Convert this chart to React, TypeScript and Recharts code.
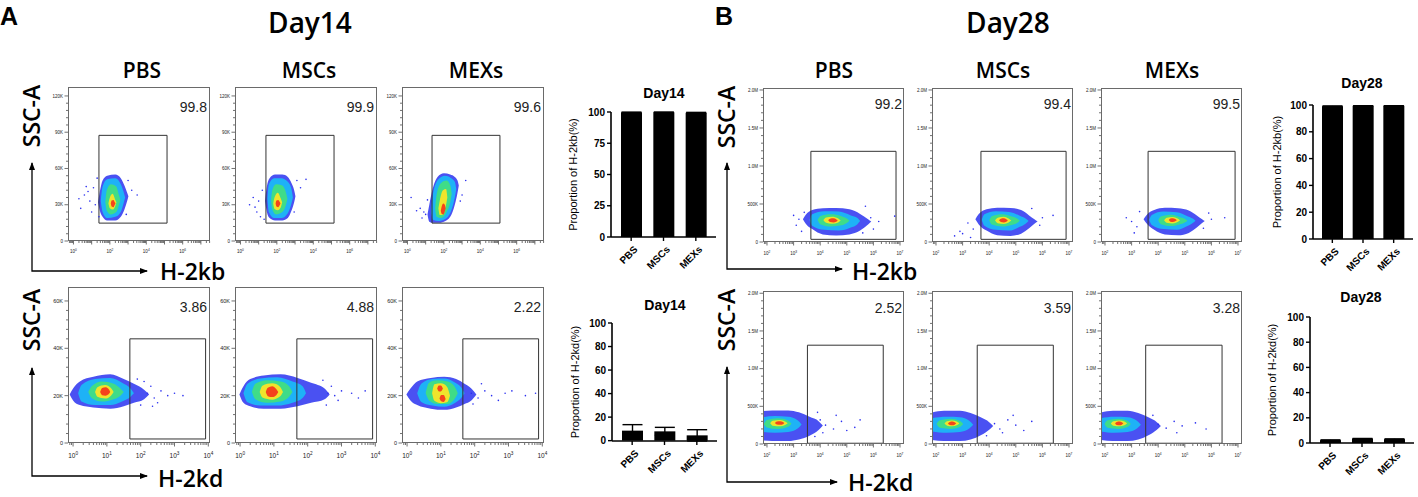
import React from 'react';
import { ComposedChart, Area, Scatter, XAxis, YAxis, ReferenceArea, BarChart, Bar, ErrorBar } from 'recharts';

const TITLE_FONT = '"Open Sans", "Noto Sans", sans-serif';
const ARIAL = '"Liberation Sans", Arial, sans-serif';

const groups = ['PBS', 'MSCs', 'MEXs'];

// gated percentages shown on the flow plots
const d14kbPct = ['99.8', '99.9', '99.6'];
const d14kdPct = ['3.86', '4.88', '2.22'];
const d28kbPct = ['99.2', '99.4', '99.5'];
const d28kdPct = ['2.52', '3.59', '3.28'];

// bar charts: mean and error (%)
const d14kbMean = [99.7, 99.8, 99.4];
const d14kbErr = [0.2, 0.1, 0.3];
const d14kdMean = [8.5, 7.9, 4.5];
const d14kdErr = [5.1, 3.4, 4.8];
const d28kbMean = [99.1, 99.4, 99.4];
const d28kbErr = [0.2, 0.1, 0.1];
const d28kdMean = [2.2, 3.4, 3.0];
const d28kdErr = [0.3, 0.2, 0.3];

const yTicks25 = [0, 25, 50, 75, 100];
const yTicks20 = [0, 20, 40, 60, 80, 100];

// flow axes: x in decades (log10), y in K events
const d14kbXLabels = [0, 2, 4, 6];
const d14kdXLabels = [0, 1, 2, 3, 4];
const d28XLabels = [2, 3, 4, 5, 6, 7];
const d14kbYLabels = [0, 30, 60, 90, 120];
const d14kdYLabels = [0, 20, 40, 60];
const d28YLabels = [0, 500, 1000, 1500, 2000];

// gates [x1, x2, y1, y2]
const d14kbGates = [[1.4, 5.14, 14.8, 87.4], [1.4, 5.14, 14.8, 87.4], [1.35, 5.08, 14.8, 87.4]];
const d14kdGates = [[1.68, 3.92, 1.7, 44], [1.68, 3.92, 1.7, 44], [1.65, 3.89, 1.7, 44]];
const d28kbGates = [[3.65, 6.85, 35, 1193], [3.69, 6.89, 35, 1193], [3.62, 6.89, 35, 1193]];
const d28kdGates = [[3.52, 6.37, 10, 1311], [3.55, 6.41, 10, 1311], [3.53, 6.4, 10, 1311]];

// density contours: [level, [[x, low, high], ...]]  level 0 = sparse (blue) .. 4 = dense (red)
type Blob = [number, number[][]][];

const d14kbPbsBlob: Blob = [
  [0, [[1.35, 32, 32], [1.45, 25, 41], [1.6, 20, 50], [1.85, 17, 54], [2.3, 17, 55], [2.6, 20, 52], [2.8, 26, 46], [2.95, 33, 40], [3.02, 37, 37]]],
  [1, [[1.5, 33, 33], [1.6, 24, 45], [1.85, 19, 51], [2.3, 20, 52], [2.6, 24, 47], [2.75, 31, 41], [2.84, 36, 36]]],
  [2, [[1.75, 32, 32], [1.83, 25, 42], [2.05, 22, 47], [2.35, 24, 45], [2.5, 30, 38], [2.58, 34, 34]]],
  [3, [[1.92, 31, 31], [2.0, 27, 36], [2.15, 26, 39], [2.3, 29, 34], [2.36, 32, 32]]],
  [4, [[2.05, 31, 31], [2.1, 28.5, 33.5], [2.2, 28, 34], [2.27, 30, 32], [2.31, 31, 31]]],
];
const d14kbPbsDots = [[0.3, 35], [0.4, 27], [0.6, 38], [0.7, 45], [0.9, 33], [1.1, 44], [1.2, 30], [3.0, 50], [3.2, 42], [3.5, 38], [1.0, 24], [0.8, 41], [1.3, 52], [1.4, 20], [2.9, 22]];

const d14kbMscBlob: Blob = [
  [0, [[1.35, 33, 33], [1.45, 24, 45], [1.6, 19, 52], [1.9, 17, 55], [2.3, 17, 55], [2.6, 19, 53], [2.8, 25, 48], [2.95, 32, 42], [3.02, 37, 37]]],
  [1, [[1.48, 35, 35], [1.56, 24, 47], [1.85, 19, 52], [2.25, 19, 52], [2.6, 23, 49], [2.8, 31, 43], [2.88, 36, 36]]],
  [2, [[1.68, 34, 34], [1.75, 26, 42], [1.95, 22, 47], [2.3, 24, 46], [2.5, 30, 40], [2.58, 35, 35]]],
  [3, [[1.8, 31, 31], [1.87, 26.5, 36], [2.05, 25.5, 40], [2.22, 28, 35], [2.29, 32, 32]]],
  [4, [[1.93, 31, 31], [1.98, 28.5, 33.5], [2.07, 28, 34], [2.15, 29.5, 32.5], [2.2, 31, 31]]],
];
const d14kbMscDots = [[0.5, 30], [0.8, 28], [0.9, 24], [1.0, 33], [1.2, 42], [3.1, 50], [3.3, 44], [3.6, 51], [1.1, 20], [0.7, 36], [1.3, 18], [2.95, 24]];

const d14kbMexBlob: Blob = [
  [0, [[1.1, 22, 22], [1.2, 16, 30], [1.4, 15, 44], [1.65, 15, 53], [2.0, 16, 56], [2.35, 20, 55], [2.6, 30, 53], [2.75, 40, 50], [2.82, 46, 46]]],
  [1, [[1.3, 24, 24], [1.4, 17.5, 39], [1.7, 16.5, 51], [2.05, 18, 54], [2.4, 25, 52], [2.6, 36, 49], [2.68, 43, 43]]],
  [2, [[1.52, 27, 27], [1.6, 20, 38], [1.85, 19, 48], [2.15, 24, 50], [2.35, 32, 46], [2.43, 39, 39]]],
  [3, [[1.7, 27, 27], [1.77, 21.5, 33], [1.95, 22, 42], [2.12, 30, 43], [2.19, 36, 36]]],
  [4, [[1.83, 25, 25], [1.88, 22.5, 28.5], [1.97, 22, 31], [2.05, 24.5, 30], [2.1, 27, 27]]],
];
const d14kbMexDots = [[0.2, 36], [0.5, 25], [0.7, 27], [0.9, 24], [1.0, 22], [3.0, 38], [3.2, 50], [2.9, 33], [0.8, 19], [1.1, 34]];

const d14kdPbsBlob: Blob = [
  [0, [[-0.1, 20.5, 20.5], [0.0, 18, 23], [0.2, 16, 26], [0.6, 15, 28], [1.1, 14.5, 29], [1.5, 15.5, 27], [1.8, 17, 25], [2.1, 18.5, 22.5], [2.25, 20.5, 20.5]]],
  [1, [[0.15, 21, 21], [0.25, 17.5, 24.5], [0.65, 16, 27], [1.1, 16, 27.5], [1.45, 17.5, 25.5], [1.7, 19.5, 23], [1.8, 21, 21]]],
  [2, [[0.45, 21.5, 21.5], [0.55, 19, 24], [0.85, 17.5, 26], [1.2, 18.5, 25], [1.4, 20, 23], [1.5, 21.5, 21.5]]],
  [3, [[0.65, 21.5, 21.5], [0.72, 19.5, 23.5], [0.95, 18.8, 24.5], [1.12, 20, 23.2], [1.2, 21.5, 21.5]]],
  [4, [[0.8, 21.5, 21.5], [0.86, 20.2, 23.2], [0.96, 20, 23.6], [1.05, 20.6, 22.8], [1.1, 21.5, 21.5]]],
];
const d14kdPbsDots = [[2.2, 21], [2.3, 24], [2.4, 19], [2.5, 17], [2.6, 22], [2.8, 20], [3.0, 21], [3.25, 20], [2.1, 26], [2.0, 16], [2.35, 15.5], [1.9, 27]];

const d14kdMscBlob: Blob = [
  [0, [[-0.02, 20.5, 20.5], [0.1, 17, 24], [0.3, 15.5, 27], [0.7, 14.5, 28.5], [1.2, 14.5, 29], [1.7, 15.5, 27.5], [2.1, 17, 25.5], [2.5, 18.5, 23], [2.65, 20.5, 20.5]]],
  [1, [[0.1, 21, 21], [0.22, 17.2, 25], [0.6, 15.8, 27.2], [1.1, 15.8, 27.8], [1.55, 17, 26], [1.85, 19, 24], [1.95, 21, 21]]],
  [2, [[0.35, 21.5, 21.5], [0.45, 18.5, 25], [0.8, 17, 26.5], [1.2, 17.5, 26], [1.45, 19.5, 24], [1.55, 21.5, 21.5]]],
  [3, [[0.58, 21.5, 21.5], [0.66, 19.2, 24.2], [0.95, 18.3, 25.2], [1.18, 19.6, 23.8], [1.27, 21.5, 21.5]]],
  [4, [[0.76, 21.5, 21.5], [0.82, 19.8, 23.3], [0.95, 19.4, 24], [1.07, 20.2, 22.8], [1.13, 21.5, 21.5]]],
];
const d14kdMscDots = [[2.6, 21], [2.7, 24], [2.8, 20], [2.9, 18], [3.0, 22], [3.3, 21], [3.5, 19], [3.7, 22], [2.55, 16], [2.45, 26.5]];

const d14kdMexBlob: Blob = [
  [0, [[-0.02, 20.5, 20.5], [0.1, 18, 23], [0.3, 16, 26], [0.7, 14.5, 27.5], [1.1, 14, 28], [1.45, 15, 27], [1.7, 16.5, 25], [1.9, 18, 23], [2.05, 20.5, 20.5]]],
  [1, [[0.3, 21, 21], [0.42, 17.3, 25], [0.75, 15.8, 27], [1.1, 15.3, 27.2], [1.4, 16.8, 25.7], [1.6, 19, 23.5], [1.7, 21, 21]]],
  [2, [[0.55, 21, 21], [0.65, 18, 25.5], [0.9, 16.5, 26.5], [1.2, 16.5, 26], [1.4, 18.5, 24], [1.5, 21, 21]]],
  [3, [[0.74, 21, 21], [0.81, 17.8, 24.8], [1.0, 16.8, 25.2], [1.18, 17.2, 23.8], [1.27, 20, 20]]],
  [4, [[0.89, 23, 23], [0.94, 21.8, 24.3], [1.0, 21.8, 24.3], [1.06, 23, 23]]],
  [4, [[0.96, 18.8, 18.8], [1.01, 17.6, 20.3], [1.08, 17.3, 20.3], [1.14, 18.6, 18.6]]],
];
const d14kdMexDots = [[1.9, 21], [2.1, 19], [2.3, 22], [2.5, 20], [2.7, 18], [2.9, 21], [3.1, 22], [3.5, 20], [3.8, 21], [2.2, 25], [1.95, 16.5]];

const d28kbPbsBlob: Blob = [
  [0, [[3.35, 300, 300], [3.45, 245, 355], [3.7, 170, 420], [4.1, 100, 445], [4.6, 85, 448], [5.1, 100, 430], [5.5, 150, 370], [5.8, 230, 300], [5.92, 270, 270]]],
  [1, [[3.6, 290, 290], [3.7, 215, 365], [4.15, 160, 405], [4.7, 150, 400], [5.15, 190, 350], [5.4, 235, 315], [5.5, 275, 275]]],
  [2, [[3.9, 288, 288], [4.0, 235, 340], [4.4, 205, 365], [4.8, 220, 340], [5.0, 250, 310], [5.1, 280, 280]]],
  [3, [[4.12, 288, 288], [4.22, 252, 322], [4.45, 240, 332], [4.68, 257, 308], [4.77, 282, 282]]],
  [4, [[4.3, 285, 285], [4.37, 263, 307], [4.5, 258, 312], [4.6, 267, 300], [4.66, 282, 282]]],
];
const d28kbPbsDots = [[3.1, 220], [3.2, 300], [3.3, 140], [5.7, 470], [5.9, 320], [6.0, 170], [6.2, 270], [6.8, 340], [3.0, 350], [3.4, 390], [5.6, 120]];

const d28kbMscBlob: Blob = [
  [0, [[3.48, 300, 300], [3.6, 235, 365], [3.9, 150, 430], [4.3, 90, 450], [4.8, 80, 448], [5.2, 110, 420], [5.5, 180, 350], [5.7, 240, 300], [5.82, 270, 270]]],
  [1, [[3.72, 290, 290], [3.82, 215, 365], [4.25, 160, 405], [4.75, 150, 395], [5.15, 200, 345], [5.38, 245, 305], [5.48, 275, 275]]],
  [2, [[4.0, 285, 285], [4.1, 230, 340], [4.5, 205, 365], [4.85, 225, 335], [5.05, 250, 310], [5.15, 280, 280]]],
  [3, [[4.22, 282, 282], [4.32, 248, 318], [4.55, 238, 332], [4.73, 257, 308], [4.83, 282, 282]]],
  [4, [[4.37, 285, 285], [4.44, 263, 307], [4.55, 258, 312], [4.64, 267, 300], [4.7, 283, 283]]],
];
const d28kbMscDots = [[2.7, 80], [2.9, 140], [3.0, 110], [3.3, 60], [3.4, 170], [5.9, 220], [6.0, 320], [6.4, 350], [5.6, 440], [3.2, 250]];

const d28kbMexBlob: Blob = [
  [0, [[3.45, 300, 300], [3.55, 250, 350], [3.85, 160, 420], [4.25, 100, 450], [4.75, 90, 445], [5.15, 120, 415], [5.45, 190, 350], [5.65, 250, 300], [5.75, 275, 275]]],
  [1, [[3.66, 290, 290], [3.76, 225, 355], [4.2, 170, 400], [4.7, 160, 390], [5.1, 210, 340], [5.3, 250, 308], [5.4, 280, 280]]],
  [2, [[4.0, 285, 285], [4.1, 235, 335], [4.5, 210, 360], [4.8, 230, 330], [5.0, 255, 305], [5.1, 280, 280]]],
  [3, [[4.22, 285, 285], [4.32, 252, 318], [4.55, 243, 328], [4.73, 262, 308], [4.82, 285, 285]]],
  [4, [[4.4, 288, 288], [4.46, 267, 308], [4.55, 262, 313], [4.64, 272, 303], [4.7, 287, 287]]],
];
const d28kbMexDots = [[2.8, 320], [3.0, 270], [3.2, 200], [3.3, 400], [5.9, 380], [6.0, 300], [6.5, 320], [3.1, 120], [5.7, 180]];

const d28kdPbsBlob: Blob = [
  [0, [[1.7, 50, 430], [2.2, 40, 445], [2.8, 40, 445], [3.2, 60, 420], [3.6, 110, 360], [3.95, 190, 300], [4.1, 245, 245]]],
  [1, [[1.7, 165, 345], [2.3, 150, 370], [2.8, 160, 360], [3.15, 205, 315], [3.3, 260, 260]]],
  [2, [[1.88, 265, 265], [2.0, 220, 320], [2.4, 200, 340], [2.8, 230, 310], [2.92, 270, 270]]],
  [3, [[2.12, 275, 275], [2.22, 243, 307], [2.5, 235, 317], [2.68, 252, 298], [2.78, 275, 275]]],
  [4, [[2.3, 278, 278], [2.37, 258, 298], [2.5, 254, 302], [2.6, 262, 293], [2.65, 278, 278]]],
];
const d28kdPbsDots = [[4.0, 320], [4.1, 150], [4.2, 250], [4.5, 200], [4.6, 380], [4.8, 300], [5.0, 180], [5.3, 220], [5.5, 320], [3.8, 100], [3.9, 420]];

const d28kdMscBlob: Blob = [
  [0, [[1.75, 60, 410], [2.3, 40, 440], [2.9, 40, 440], [3.3, 60, 410], [3.7, 120, 350], [4.0, 190, 290], [4.15, 240, 240]]],
  [1, [[1.8, 170, 340], [2.4, 150, 360], [2.9, 160, 355], [3.25, 205, 310], [3.4, 255, 255]]],
  [2, [[2.02, 265, 265], [2.15, 215, 315], [2.55, 200, 335], [2.9, 225, 305], [3.02, 265, 265]]],
  [3, [[2.32, 272, 272], [2.42, 243, 302], [2.6, 234, 312], [2.78, 248, 298], [2.88, 272, 272]]],
  [4, [[2.45, 272, 272], [2.52, 253, 293], [2.62, 249, 297], [2.7, 257, 290], [2.76, 272, 272]]],
];
const d28kdMscDots = [[4.2, 270], [4.4, 200], [4.5, 150], [4.7, 320], [4.9, 380], [5.0, 250], [5.3, 180], [5.6, 300], [3.9, 110]];

const d28kdMexBlob: Blob = [
  [0, [[1.75, 60, 410], [2.3, 40, 440], [2.85, 40, 440], [3.25, 60, 410], [3.65, 120, 350], [3.95, 190, 290], [4.1, 240, 240]]],
  [1, [[1.8, 170, 340], [2.35, 150, 360], [2.85, 160, 355], [3.2, 205, 310], [3.35, 255, 255]]],
  [2, [[1.98, 265, 265], [2.1, 215, 315], [2.5, 200, 335], [2.85, 225, 305], [2.97, 265, 265]]],
  [3, [[2.22, 272, 272], [2.32, 243, 302], [2.55, 234, 312], [2.73, 248, 298], [2.83, 272, 272]]],
  [4, [[2.38, 272, 272], [2.44, 253, 293], [2.55, 249, 297], [2.63, 257, 290], [2.69, 272, 272]]],
];
const d28kdMexDots = [[4.0, 260], [4.3, 210], [4.6, 300], [4.7, 150], [4.9, 240], [5.4, 280], [5.8, 200], [3.8, 380]];

const levelColors = ['#2a32f0', '#1eb2f6', '#3fdc88', '#efe42c', '#f4431c'];
const LOG_MINOR = [0.301, 0.477, 0.602, 0.699, 0.778, 0.845, 0.903, 0.954];

const logTicks = (from: number, to: number, dom: number[]) => {
  const t: number[] = [];
  for (let d = from; d <= to; d++) {
    t.push(d);
    LOG_MINOR.forEach((m) => t.push(d + m));
  }
  return t.filter((v) => v >= dom[0] && v <= dom[1]);
};

const linTicks = (majors: number[], sub: number) => {
  const step = (majors[1] - majors[0]) / sub;
  const t: number[] = [];
  majors.forEach((m, i) => {
    t.push(m);
    if (i < majors.length - 1) for (let k = 1; k < sub; k++) t.push(m + k * step);
  });
  return t;
};

const fmtK = (v: number) => (v === 0 ? '0' : v >= 1000 ? `${(v / 1000).toFixed(1)}M` : `${v}K`);

const LogTick = (p: any) => {
  const { x, y, payload, labels, fs, gap } = p;
  const v = payload.value;
  const decade = Math.abs(v - Math.round(v)) < 1e-6;
  const lbl = decade && labels.includes(Math.round(v));
  return (
    <g>
      <line x1={x} x2={x} y1={y} y2={y + (decade ? 3.5 : 2)} stroke="#333" strokeWidth={0.7} />
      {lbl && (
        <text x={x} y={y + gap} textAnchor="middle" fontSize={fs} fill="#222" fontFamily={ARIAL}>
          10<tspan dy={-fs * 0.45} fontSize={fs * 0.72}>{Math.round(v)}</tspan>
        </text>
      )}
    </g>
  );
};

const LinTick = (p: any) => {
  const { x, y, payload, labels, fs } = p;
  const v = payload.value;
  const lbl = labels.includes(v);
  const len = lbl ? 3.5 : 2;
  return (
    <g>
      <line x1={x - len} x2={x} y1={y} y2={y} stroke="#333" strokeWidth={0.7} />
      {lbl && (
        <text x={x - len - 1.5} y={y} dy={fs * 0.35} textAnchor="end" fontSize={fs} fill="#222" fontFamily={ARIAL}>
          {fmtK(v)}
        </text>
      )}
    </g>
  );
};

function FlowPanel({ left, top, w, h, xDomain, yDomain, xTicks, xLabels, yTicks, yLabels, fsX, fsY, gapX, blob, dots, gate }: any) {
  const yw = 22;
  const xh = 18;
  const mr = 8;
  return (
    <div style={{ position: 'absolute', left: left - yw, top, width: w + yw + mr, height: h + xh }}>
      <ComposedChart width={w + yw + mr} height={h + xh} margin={{ top: 0, right: mr, bottom: 0, left: 0 }}>
        <XAxis type="number" dataKey="x" domain={xDomain} allowDataOverflow ticks={xTicks} interval={0} height={xh}
          axisLine={false} tickLine={false} tickSize={0} tickMargin={0}
          tick={(p: any) => <LogTick {...p} labels={xLabels} fs={fsX} gap={gapX} />} />
        <YAxis type="number" domain={yDomain} allowDataOverflow ticks={yTicks} interval={0} width={yw}
          axisLine={false} tickLine={false} tickSize={0} tickMargin={0}
          tick={(p: any) => <LinTick {...p} labels={yLabels} fs={fsY} />} />
        {blob.map(([lv, pts]: [number, number[][]], i: number) => (
          <Area key={i} data={pts.map(([x, lo, hi]) => ({ x, r: [lo, hi] }))} dataKey="r" type="monotone"
            stroke="none" fill={levelColors[lv]} fillOpacity={lv === 0 ? 0.85 : 1} dot={false} activeDot={false}
            isAnimationActive={false} />
        ))}
        <Scatter data={dots.map(([x, y]: number[]) => ({ x, y }))} dataKey="y" isAnimationActive={false}
          shape={(s: any) => <circle cx={s.cx} cy={s.cy} r={0.8} fill="#2a2ff0" />} />
        <ReferenceArea x1={gate[0]} x2={gate[1]} y1={gate[2]} y2={gate[3]} fill="none" stroke="#333" strokeWidth={1} />
      </ComposedChart>
      <div style={{ position: 'absolute', left: yw, top: 0, width: w, height: h, border: '1px solid #6a6a6a', boxSizing: 'border-box', pointerEvents: 'none' }} />
    </div>
  );
}

const RotTick = (p: any) => {
  const { x, y, payload } = p;
  return (
    <g transform={`translate(${x},${y})`}>
      <text x={0} y={10} textAnchor="end" transform="rotate(-45)" fontSize={10} fontWeight={700} fontFamily={ARIAL} fill="#000">
        {payload.value}
      </text>
    </g>
  );
};

function PropBar({ left, top, plotW, plotH, mean, err, yTicks, label, labelX }: any) {
  const yw = 55;
  const mt = 6;
  const mr = 4;
  const xh = 42;
  const data = groups.map((g, i) => ({ name: g, v: mean[i], e: err[i] }));
  return (
    <div style={{ position: 'absolute', left: left - yw, top: top - mt }}>
      <BarChart width={yw + plotW + mr} height={mt + plotH + xh} data={data} barSize={21}
        margin={{ top: mt, right: mr, bottom: 0, left: 0 }}>
        <XAxis dataKey="name" height={xh} padding={{ left: 4, right: 4 }} interval={0}
          axisLine={{ stroke: '#000', strokeWidth: 1.6 }} tickLine={{ stroke: '#000', strokeWidth: 1.4 }}
          tickSize={4} tickMargin={2} tick={<RotTick />} />
        <YAxis width={yw} domain={[0, 100]} ticks={yTicks} interval={0}
          axisLine={{ stroke: '#000', strokeWidth: 1.6 }} tickLine={{ stroke: '#000', strokeWidth: 1.4 }}
          tickSize={4} tickMargin={2}
          tick={{ fontSize: 10, fontWeight: 700, fill: '#000', fontFamily: ARIAL }}
          label={{ value: label, angle: -90, position: 'insideLeft', offset: labelX - (left - yw),
            style: { textAnchor: 'middle', fontSize: 11, fontFamily: ARIAL, fill: '#000' } }} />
        <Bar dataKey="v" fill="#000" isAnimationActive={false}>
          <ErrorBar dataKey="e" width={10} stroke="#000" strokeWidth={1.4} direction="y" />
        </Bar>
      </BarChart>
    </div>
  );
}

const d14Lefts = [68, 235, 402];
const d28Lefts = [763, 932, 1101];

export default function App() {
  const d14kbDom = [-0.3, 7.5];
  const d14kdDom = [-0.15, 4.05];
  const d28Dom = [1.85, 7.15];
  const d14kbX = logTicks(-1, 7, d14kbDom);
  const d14kdX = logTicks(-1, 4, d14kdDom);
  const d28X = logTicks(1, 7, d28Dom);
  const d14kbY = linTicks(d14kbYLabels, 5);
  const d14kdY = linTicks(d14kdYLabels, 5);
  const d28Y = linTicks(d28YLabels, 5);

  const d14kbBlobs = [d14kbPbsBlob, d14kbMscBlob, d14kbMexBlob];
  const d14kbDots = [d14kbPbsDots, d14kbMscDots, d14kbMexDots];
  const d14kdBlobs = [d14kdPbsBlob, d14kdMscBlob, d14kdMexBlob];
  const d14kdDots = [d14kdPbsDots, d14kdMscDots, d14kdMexDots];
  const d28kbBlobs = [d28kbPbsBlob, d28kbMscBlob, d28kbMexBlob];
  const d28kbDots = [d28kbPbsDots, d28kbMscDots, d28kbMexDots];
  const d28kdBlobs = [d28kdPbsBlob, d28kdMscBlob, d28kdMexBlob];
  const d28kdDots = [d28kdPbsDots, d28kdMscDots, d28kdMexDots];

  const colTitle = { fontFamily: TITLE_FONT, fontSize: 21, fontWeight: 600, fill: '#000' };
  const axTitle = { fontFamily: TITLE_FONT, fontSize: 23, fontWeight: 600, fill: '#000' };
  const pct = { fontFamily: ARIAL, fontSize: 14, fill: '#222' };
  const barTitle = { fontFamily: ARIAL, fontSize: 14, fontWeight: 700, fill: '#000' };

  return (
    <div style={{ position: 'absolute', left: 0, top: 0, width: 1418, height: 497, background: '#fff', overflow: 'hidden' }}>
      {d14Lefts.map((l, i) => (
        <FlowPanel key={`a${i}`} left={l} top={87} w={142} h={154} xDomain={d14kbDom} yDomain={[0, 127.4]}
          xTicks={d14kbX} xLabels={d14kbXLabels} yTicks={d14kbY} yLabels={d14kbYLabels} fsX={4.5} fsY={4.5} gapX={12}
          blob={d14kbBlobs[i]} dots={d14kbDots[i]} gate={d14kbGates[i]} />
      ))}
      {d14Lefts.map((l, i) => (
        <FlowPanel key={`b${i}`} left={l} top={287} w={142} h={156} xDomain={d14kdDom} yDomain={[0, 65.9]}
          xTicks={d14kdX} xLabels={d14kdXLabels} yTicks={d14kdY} yLabels={d14kdYLabels} fsX={6.5} fsY={5.5} gapX={15}
          blob={d14kdBlobs[i]} dots={d14kdDots[i]} gate={d14kdGates[i]} />
      ))}
      {d28Lefts.map((l, i) => (
        <FlowPanel key={`c${i}`} left={l} top={88} w={141} h={154} xDomain={d28Dom} yDomain={[0, 2026]}
          xTicks={d28X} xLabels={d28XLabels} yTicks={d28Y} yLabels={d28YLabels} fsX={4.5} fsY={4.5} gapX={13}
          blob={d28kbBlobs[i]} dots={d28kbDots[i]} gate={d28kbGates[i]} />
      ))}
      {d28Lefts.map((l, i) => (
        <FlowPanel key={`d${i}`} left={l} top={291} w={141} h={153} xDomain={d28Dom} yDomain={[0, 2030]}
          xTicks={d28X} xLabels={d28XLabels} yTicks={d28Y} yLabels={d28YLabels} fsX={4.5} fsY={4.5} gapX={13}
          blob={d28kdBlobs[i]} dots={d28kdDots[i]} gate={d28kdGates[i]} />
      ))}

      <PropBar left={611} top={112} plotW={105} plotH={125} mean={d14kbMean} err={d14kbErr} yTicks={yTicks25}
        label="Proportion of H-2kb(%)" labelX={573} />
      <PropBar left={612} top={323} plotW={105} plotH={118} mean={d14kdMean} err={d14kdErr} yTicks={yTicks20}
        label="Proportion of H-2kd(%)" labelX={575} />
      <PropBar left={1313} top={105} plotW={100} plotH={134} mean={d28kbMean} err={d28kbErr} yTicks={yTicks20}
        label="Proportion of H-2kb(%)" labelX={1277} />
      <PropBar left={1310} top={317} plotW={104} plotH={126} mean={d28kdMean} err={d28kdErr} yTicks={yTicks20}
        label="Proportion of H-2kd(%)" labelX={1272} />

      <svg width={1418} height={497} style={{ position: 'absolute', left: 0, top: 0, pointerEvents: 'none' }}>
        <defs>
          <marker id="ah" markerWidth="8" markerHeight="6" refX="7" refY="3" orient="auto-start-reverse" markerUnits="userSpaceOnUse">
            <path d="M0,0 L8,3 L0,6 Z" fill="#000" />
          </marker>
        </defs>
        <text x={0} y={25} fontFamily={ARIAL} fontSize={25} fontWeight={700}>A</text>
        <text x={715} y={25} fontFamily={ARIAL} fontSize={25} fontWeight={700}>B</text>
        <text x={310} y={33} textAnchor="middle" fontFamily={TITLE_FONT} fontSize={28} fontWeight={600}>Day14</text>
        <text x={1008} y={33} textAnchor="middle" fontFamily={TITLE_FONT} fontSize={28} fontWeight={600}>Day28</text>
        {groups.map((g, i) => (
          <text key={`t14${g}`} x={d14Lefts[i] + 74} y={78} textAnchor="middle" {...colTitle}>{g}</text>
        ))}
        {groups.map((g, i) => (
          <text key={`t28${g}`} x={d28Lefts[i] + 71} y={78} textAnchor="middle" {...colTitle}>{g}</text>
        ))}
        {[[32, 116], [32, 320], [727, 117], [727, 320]].map(([cx, cy], i) => (
          <text key={`s${i}`} x={cx + 8} y={cy} textAnchor="middle" transform={`rotate(-90 ${cx + 8} ${cy})`} {...axTitle}>SSC-A</text>
        ))}
        <text x={160} y={280} {...axTitle}>H-2kb</text>
        <text x={852} y={280} {...axTitle}>H-2kb</text>
        <text x={158} y={487} {...axTitle}>H-2kd</text>
        <text x={848} y={491} {...axTitle}>H-2kd</text>
        {[[32, 163, 271, 147], [32, 368, 476, 147], [727, 163, 269, 842], [727, 367, 482, 837]].map(([x0, yTop, yC, xR], i) => (
          <polyline key={`ar${i}`} points={`${x0},${yTop} ${x0},${yC} ${xR},${yC}`} fill="none" stroke="#000" strokeWidth={1.3}
            markerStart="url(#ah)" markerEnd="url(#ah)" />
        ))}
        {d14kbPct.map((t, i) => <text key={`p1${i}`} x={d14Lefts[i] + 139} y={112} textAnchor="end" {...pct}>{t}</text>)}
        {d14kdPct.map((t, i) => <text key={`p2${i}`} x={d14Lefts[i] + 139} y={312} textAnchor="end" {...pct}>{t}</text>)}
        {d28kbPct.map((t, i) => <text key={`p3${i}`} x={d28Lefts[i] + 139} y={109} textAnchor="end" {...pct}>{t}</text>)}
        {d28kdPct.map((t, i) => <text key={`p4${i}`} x={d28Lefts[i] + 139} y={313} textAnchor="end" {...pct}>{t}</text>)}
        <text x={664} y={98} textAnchor="middle" {...barTitle}>Day14</text>
        <text x={665} y={310} textAnchor="middle" {...barTitle}>Day14</text>
        <text x={1362} y={88} textAnchor="middle" {...barTitle}>Day28</text>
        <text x={1361} y={302} textAnchor="middle" {...barTitle}>Day28</text>
      </svg>
    </div>
  );
}
